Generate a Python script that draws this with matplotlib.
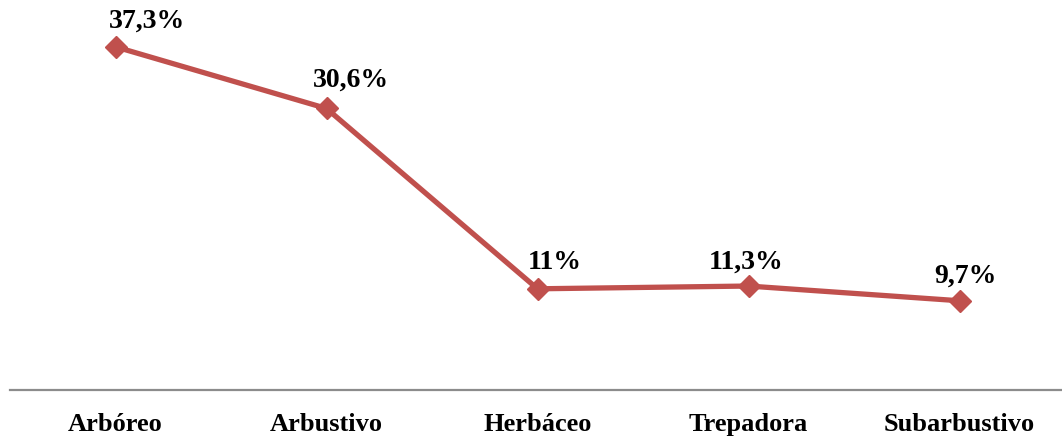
import matplotlib
matplotlib.use("Agg")
import matplotlib.pyplot as plt

# growth habit shares (%)
categories = ["Arbóreo", "Arbustivo", "Herbáceo", "Trepadora", "Subarbustivo"]
values = [37.3, 30.6, 11.0, 11.3, 9.7]
labels = ["37,3%", "30,6%", "11%", "11,3%", "9,7%"]

# label nudges in pixels (dx, dy) relative to each point
nudges = [(32, 27), (24, 29), (17, 27), (-2, 25), (6, 26)]

plt.rcParams["font.family"] = ["Liberation Serif", "DejaVu Serif"]

fig = plt.figure(figsize=(10.62, 4.39), dpi=100)
ax = fig.add_axes([10 / 1062, 48 / 439, 1052 / 1062, 368 / 439])

x = list(range(len(categories)))
ax.plot(x, values, color="#C0504D", linewidth=3.8, marker="D",
        markersize=11, markerfacecolor="#C0504D", markeredgecolor="#C0504D",
        solid_capstyle="round", zorder=3)

for xi, v, lab, (dx, dy) in zip(x, values, labels, nudges):
    ax.annotate(lab, (xi, v), xytext=(dx * 0.72, dy * 0.72),
                textcoords="offset points", ha="center", va="center",
                fontsize=20, fontweight="bold", color="black")

ax.set_xlim(-0.5, -0.5 + 1052 / 211)
ax.set_ylim(0, 40)

for side in ["top", "right", "left"]:
    ax.spines[side].set_visible(False)
ax.spines["bottom"].set_color("#8c8c8c")
ax.spines["bottom"].set_linewidth(1.6)

ax.set_yticks([])
ax.set_xticks(x)
ax.set_xticklabels(categories, fontsize=19, fontweight="bold")
ax.tick_params(axis="x", length=0, pad=16)

fig.savefig("out.png", dpi=100)
